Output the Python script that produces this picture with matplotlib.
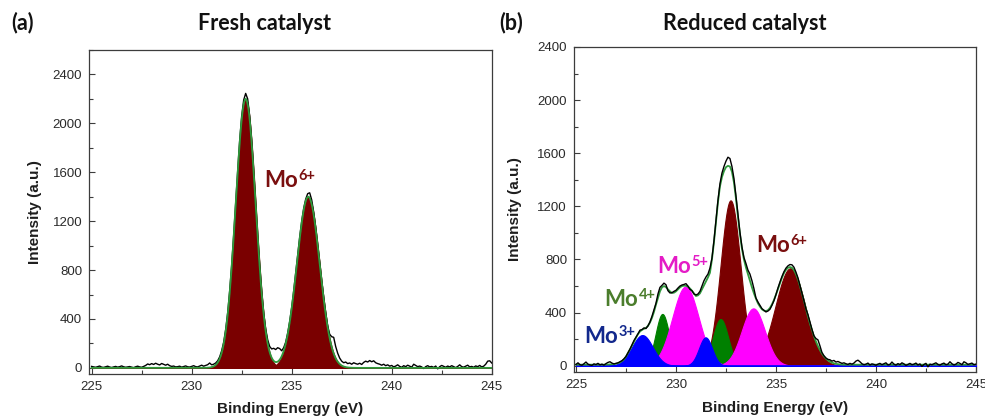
import numpy as np
import matplotlib
matplotlib.use("Agg")
import matplotlib.pyplot as plt
from matplotlib.ticker import MultipleLocator

# ---------------------------------------------------------------------------
# Mo 3d XPS data (binding energy grid, 0.1 eV steps from 225 to 245 eV)
# ---------------------------------------------------------------------------
energy = np.linspace(225.0, 245.0, 201)

# Fresh catalyst: measured counts
fresh_measured = [
    12, 8, 5, 10, 15, 6, 4, 9, 14, 7,
    3, 8, 12, 6, 10, 16, 9, 5, 8, 11,
    6, 2, 9, 14, 8, 5, 12, 20, 32, 26,
    35, 28, 38, 30, 24, 36, 29, 22, 30, 18,
    12, 15, 8, 10, 14, 6, 11, 16, 9, 7,
    12, 18, 10, 8, 15, 22, 14, 20, 26, 40,
    25, 30, 40, 58, 90, 140, 210, 315, 450, 630,
    840, 1085, 1350, 1610, 1860, 2060, 2190, 2245, 2200, 2060,
    1860, 1615, 1350, 1085, 840, 625, 450, 320, 230, 175,
    155, 160, 150, 165, 158, 140, 165, 210, 285, 380,
    495, 630, 775, 925, 1070, 1200, 1305, 1380, 1425, 1432,
    1375, 1275, 1150, 1010, 865, 715, 580, 455, 345, 275,
    255, 250, 175, 120, 80, 55, 42, 48, 35, 40,
    30, 42, 35, 30, 38, 28, 45, 55, 48, 60,
    50, 58, 42, 35, 30, 22, 30, 18, 25, 14,
    20, 8, 15, 25, 12, 5, 18, 10, 22, 14,
    6, 30, 20, 10, 15, 8, -5, 10, 18, 8,
    12, 4, 15, -8, 10, 20, 12, 5, 15, 8,
    18, 10, 2, 12, 25, 10, 6, 14, 22, 8,
    12, 5, 16, 10, 20, 8, 14, 30, 55, 58,
    40,
]

# Fresh catalyst: fitted Mo6+ doublet (3d5/2, 3d3/2)
fresh_mo6_centers = [232.70, 235.83]
fresh_mo6_heights = [2200, 1400]
fresh_mo6_sigmas = [0.50, 0.57]

# Reduced catalyst: measured counts
reduced_measured = [
    10, 22, 8, 4, 15, 28, 12, 6, 3, 14,
    9, 18, 7, 12, 5, 16, 25, 30, 20, 14,
    18, 22, 30, 38, 52, 70, 98, 125, 158, 190,
    215, 240, 268, 272, 285, 280, 300, 330, 372, 420,
    470, 540, 590, 605, 622, 610, 565, 548, 550, 560,
    568, 585, 600, 608, 612, 618, 600, 575, 565, 540,
    533, 540, 560, 600, 640, 668, 690, 735, 810, 940,
    1090, 1245, 1370, 1450, 1500, 1540, 1570, 1560, 1500, 1410,
    1280, 1140, 1005, 895, 815, 770, 720, 690, 640, 580,
    510, 480, 455, 430, 418, 405, 412, 425, 455, 490,
    535, 585, 630, 672, 708, 735, 752, 762, 760, 742,
    705, 662, 605, 548, 490, 428, 385, 330, 275, 225,
    205, 195, 150, 100, 75, 58, 48, 45, 35, 40,
    28, 32, 25, 18, 22, 15, 10, 18, 12, 20,
    35, 42, 30, 15, 8, 12, 20, 6, 14, 10,
    4, 12, 18, 8, 15, 22, 6, 10, 28, 12,
    5, 16, 9, 22, 14, 3, 10, 18, 8, 12,
    20, 6, 14, -5, 10, 18, -8, 12, 8, 15,
    22, 10, 5, 14, 20, 8, 12, 30, 15, 6,
    12, 25, 18, 8, 30, 22, 10, 15, 20, 8,
    12,
]

# Reduced catalyst: fit envelope
reduced_envelope = [
    8, 8, 8, 8, 8, 8, 8, 8, 8, 8,
    8, 8, 8, 8, 8, 9, 9, 10, 11, 12,
    15, 19, 25, 35, 48, 68, 95, 122, 150, 180,
    210, 238, 258, 270, 278, 285, 300, 325, 360, 405,
    460, 510, 560, 590, 600, 592, 575, 560, 548, 550,
    560, 575, 590, 600, 603, 602, 595, 582, 565, 545,
    525, 530, 545, 575, 605, 635, 665, 700, 800, 930,
    1080, 1230, 1350, 1420, 1465, 1495, 1505, 1500, 1460, 1380,
    1260, 1120, 990, 880, 800, 740, 690, 640, 590, 545,
    505, 470, 445, 425, 415, 412, 418, 435, 462, 495,
    535, 578, 622, 662, 697, 722, 738, 743, 738, 720,
    690, 650, 600, 545, 488, 430, 372, 318, 268, 222,
    182, 148, 118, 92, 71, 54, 41, 31, 24, 18,
    14, 12, 10, 9, 8, 8, 8, 8, 8, 8,
    8, 8, 8, 8, 8, 8, 8, 8, 8, 8,
    8, 8, 8, 8, 8, 8, 8, 8, 8, 8,
    8, 8, 8, 8, 8, 8, 8, 8, 8, 8,
    8, 8, 8, 8, 8, 8, 8, 8, 8, 8,
    8, 8, 8, 8, 8, 8, 8, 8, 8, 8,
    8, 8, 8, 8, 8, 8, 8, 8, 8, 8,
    8,
]

# Reduced catalyst: fitted doublets per oxidation state
mo3_centers = [228.32, 231.48]
mo3_heights = [231, 214]
mo3_sigmas = [0.52, 0.33]

mo4_centers = [229.32, 232.23]
mo4_heights = [390, 352]
mo4_sigmas = [0.34, 0.38]

mo5_centers = [230.48, 233.87]
mo5_heights = [596, 432]
mo5_sigmas = [0.66, 0.58]

mo6_centers = [232.73, 235.72]
mo6_heights = [1245, 734]
mo6_sigmas = [0.50, 0.75]

x_ticks = [225, 230, 235, 240, 245]
y_ticks = [0, 400, 800, 1200, 1600, 2000, 2400]

# ---------------------------------------------------------------------------
# Styling
# ---------------------------------------------------------------------------
C_MO3 = "#0000ff"
C_MO4 = "#008000"
C_MO5 = "#ff00ff"
C_MO6 = "#7a0000"
C_ENV = "#2f9a3c"
LBL_MO3 = "#12288c"
LBL_MO4 = "#4b7d2c"
LBL_MO5 = "#e41cc6"
LBL_MO6 = "#7a0f0f"
SPINE = "#3c3c3c"
TICK_TXT = "#2a2a2a"
LABEL_FONT = ["Lato", "DejaVu Sans"]

plt.rcParams["font.family"] = ["Liberation Sans", "DejaVu Sans"]

fine = np.linspace(225.0, 245.0, 4001)


def gaussian(x, center, height, sigma):
    return height * np.exp(-0.5 * ((x - center) / sigma) ** 2)


def draw_doublet(ax, centers, heights, sigmas, color, z):
    for c, h, s in zip(centers, heights, sigmas):
        y = gaussian(fine, c, h, s)
        ax.fill_between(fine, 0, y, facecolor=color, edgecolor=color,
                        linewidth=0.8, zorder=z)


def style_axes(ax, xlim, ylim, xlab_y, ylab_x):
    ax.set_xlim(*xlim)
    ax.set_ylim(*ylim)
    ax.set_xticks(x_ticks)
    ax.set_yticks(y_ticks)
    ax.xaxis.set_minor_locator(MultipleLocator(2.5))
    ax.yaxis.set_minor_locator(MultipleLocator(200))
    ax.tick_params(which="both", direction="in", top=False, right=False,
                   color=SPINE, width=0.8, labelcolor=TICK_TXT,
                   labelsize=9.5)
    ax.tick_params(which="major", length=4.5, pad=5)
    ax.tick_params(which="minor", length=2.8)
    for sp in ax.spines.values():
        sp.set_color(SPINE)
        sp.set_linewidth(0.9)
    ax.set_xlabel("Binding Energy (eV)", fontsize=11, fontweight="bold",
                  color="#1e1e1e")
    ax.set_ylabel("Intensity (a.u.)", fontsize=11, fontweight="bold",
                  color="#1e1e1e")
    ax.xaxis.set_label_coords(0.5, xlab_y)
    ax.yaxis.set_label_coords(ylab_x, 0.5)


state_labels = []


def state_label(ax, x, y, sup, color):
    t = ax.text(x, y, "Mo", ha="left", va="baseline", color=color,
                fontsize=16, fontweight="bold", family=LABEL_FONT, zorder=10)
    state_labels.append((ax, t, sup, color))


fig = plt.figure(figsize=(9.85, 4.19), dpi=100)
ax_a = fig.add_axes([0.0904, 0.1074, 0.4088, 0.7733])
ax_b = fig.add_axes([0.5827, 0.1122, 0.4081, 0.7757])

# ---------------------------- (a) fresh -----------------------------------
draw_doublet(ax_a, fresh_mo6_centers, fresh_mo6_heights, fresh_mo6_sigmas,
             C_MO6, 2)
fresh_env = sum(gaussian(fine, c, h, s) for c, h, s in
                zip(fresh_mo6_centers, fresh_mo6_heights, fresh_mo6_sigmas))
ax_a.plot(energy, fresh_measured, color="black", lw=1.0, zorder=6)
ax_a.plot(fine, fresh_env, color=C_ENV, lw=1.3, zorder=7)
style_axes(ax_a, (224.87, 245.0), (-50, 2600), -0.085, -0.117)
state_label(ax_a, 233.62, 1479, "6+", LBL_MO6)

# ---------------------------- (b) reduced ---------------------------------
draw_doublet(ax_b, mo6_centers, mo6_heights, mo6_sigmas, C_MO6, 2)
draw_doublet(ax_b, mo4_centers, mo4_heights, mo4_sigmas, C_MO4, 3)
draw_doublet(ax_b, mo5_centers, mo5_heights, mo5_sigmas, C_MO5, 4)
draw_doublet(ax_b, mo3_centers, mo3_heights, mo3_sigmas, C_MO3, 5)
ax_b.plot(energy, reduced_envelope, color=C_ENV, lw=1.3, zorder=6)
ax_b.plot(energy, reduced_measured, color="black", lw=1.0, zorder=7)
style_axes(ax_b, (224.9, 245.0), (-47, 2400), -0.09, -0.129)
state_label(ax_b, 225.4, 171, "3+", LBL_MO3)
state_label(ax_b, 226.4, 450, "4+", LBL_MO4)
state_label(ax_b, 229.05, 698, "5+", LBL_MO5)
state_label(ax_b, 234.0, 856, "6+", LBL_MO6)

# ---------------------------- panel titles --------------------------------
title_kw = dict(fontsize=15.5, fontweight="bold", color="#111111",
                family=LABEL_FONT, va="center", ha="center")
fig.text(22 / 985, 1 - 23 / 419, "(a)", **title_kw)
fig.text(265 / 985, 1 - 23 / 419, "Fresh catalyst", **title_kw)
fig.text(511 / 985, 1 - 23 / 419, "(b)", **title_kw)
fig.text(745 / 985, 1 - 23 / 419, "Reduced catalyst", **title_kw)

# superscript charges placed right after each "Mo", raised above its baseline
fig.canvas.draw()
renderer = fig.canvas.get_renderer()
for ax, t, sup, color in state_labels:
    bb = t.get_window_extent(renderer)
    _, base_y = ax.transData.transform(t.get_position())
    sx, sy = ax.transData.inverted().transform((bb.x1 + 1.0, base_y + 7.0))
    ax.text(sx, sy, sup, ha="left", va="baseline", color=color,
            fontsize=10.5, fontweight="bold", family=LABEL_FONT, zorder=10)

fig.savefig("out.png", dpi=100)
